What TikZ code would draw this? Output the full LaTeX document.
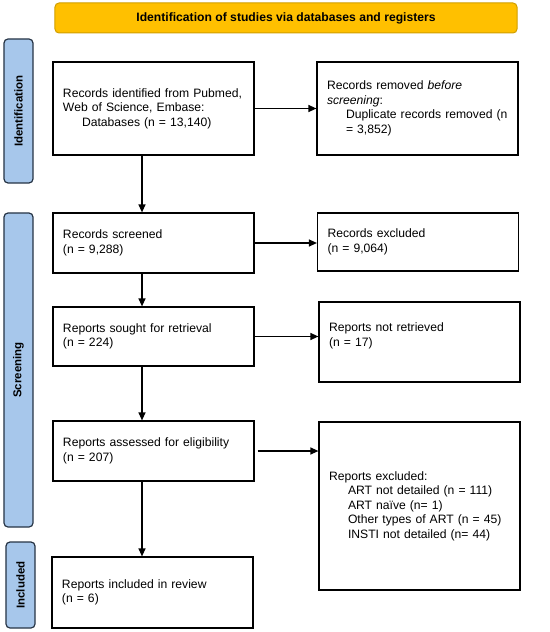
\documentclass[tikz,border=0pt]{standalone}
\usepackage{fontspec}
\setmainfont{Liberation Sans}
\usetikzlibrary{arrows.meta}
\definecolor{bannerfill}{HTML}{FFC000}
\definecolor{bannerline}{HTML}{D09E00}
\definecolor{phasefill}{HTML}{A7C7EB}
\definecolor{phaseline}{HTML}{263445}

\begin{document}
\begin{tikzpicture}[x=1bp, y=-1bp]
            \tikzstyle{box} = [draw, line width=1.2bp, minimum width=201bp, text width=181bp, inner xsep=10bp, align=left, font=\fontsize{12.2}{14.6}\selectfont]
            \tikzstyle{phase} = [draw=phaseline, fill=phasefill, line width=1.2bp, rounded corners=4bp, rotate=90, minimum height=29bp, font=\bfseries\fontsize{11.5}{13}\selectfont]
            \tikzstyle{arr} = [line width=1.2bp, -{Triangle[length=8bp, width=7bp]}]
            \useasboundingbox (0, 0) rectangle (550, 632);
            \node[draw=bannerline, fill=bannerfill, line width=1bp, rounded corners=4bp, minimum width=462bp, minimum height=30bp, font=\bfseries\fontsize{12.2}{14.6}\selectfont] (banner) at (286, 18) {Identification of studies via databases and registers};
            \node[phase, minimum width=144bp] (idphase) at (18.5, 111) {Identification};
            \node[phase, minimum width=314bp] (scphase) at (18.5, 370) {Screening};
            \node[phase, minimum width=86bp] (inphase) at (20.5, 585) {Included};
            \node[box, minimum height=93bp] (ident) at (153.5, 108.5) {Records identified from Pubmed,\\Web of Science, Embase:\\\hspace*{19bp}Databases (n = 13,140)};
            \node[box, minimum height=93bp] (removed) at (417.5, 108.5) {Records removed \textit{before}\\\textit{screening}:\\\hspace*{19bp}Duplicate records removed (n\\\hspace*{19bp}= 3,852)};
            \node[box, minimum height=60bp] (screened) at (153.5, 243) {Records screened\\(n = 9,288)};
            \node[box, minimum height=58bp] (excluded) at (418, 242) {Records excluded\\(n = 9,064)};
            \node[box, minimum height=59bp] (sought) at (153.5, 336.5) {Reports sought for retrieval\\(n = 224)};
            \node[box, minimum height=80bp] (notretr) at (419.5, 342) {Reports not retrieved\\(n = 17)\\\mbox{}};
            \node[box, minimum height=60bp] (assessed) at (153.5, 451) {Reports assessed for eligibility\\(n = 207)};
            \node[box, minimum height=168bp] (repexcl) at (419.5, 506) {Reports excluded:\\\hspace*{19bp}ART not detailed (n = 111)\\\hspace*{19bp}ART naïve (n= 1)\\\hspace*{19bp}Other types of ART (n = 45)\\\hspace*{19bp}INSTI not detailed (n= 44)};
            \node[box, minimum height=71bp] (included) at (152.5, 592.5) {Reports included in review\\(n = 6)};
            % down the left column
            \draw[arr] ([xshift=-11.5bp]ident.south) -- ([xshift=-11.5bp]ident.south |- screened.north);
            \draw[arr] ([xshift=-11.5bp]screened.south) -- ([xshift=-11.5bp]screened.south |- sought.north);
            \draw[arr] ([xshift=-11.5bp]sought.south) -- ([xshift=-11.5bp]sought.south |- assessed.north);
            \draw[arr] ([xshift=-11.5bp]assessed.south) -- ([xshift=-11.5bp]assessed.south |- included.north);
            % across to the right column
            \draw[arr] (ident.east) -- (ident.east -| removed.west);
            \draw[arr] (screened.east) -- (screened.east -| excluded.west);
            \draw[arr] (sought.east) -- (sought.east -| notretr.west);
            \draw[arr] ([xshift=3bp]assessed.east) -- (assessed.east -| repexcl.west);
        \end{tikzpicture}
\end{document}
